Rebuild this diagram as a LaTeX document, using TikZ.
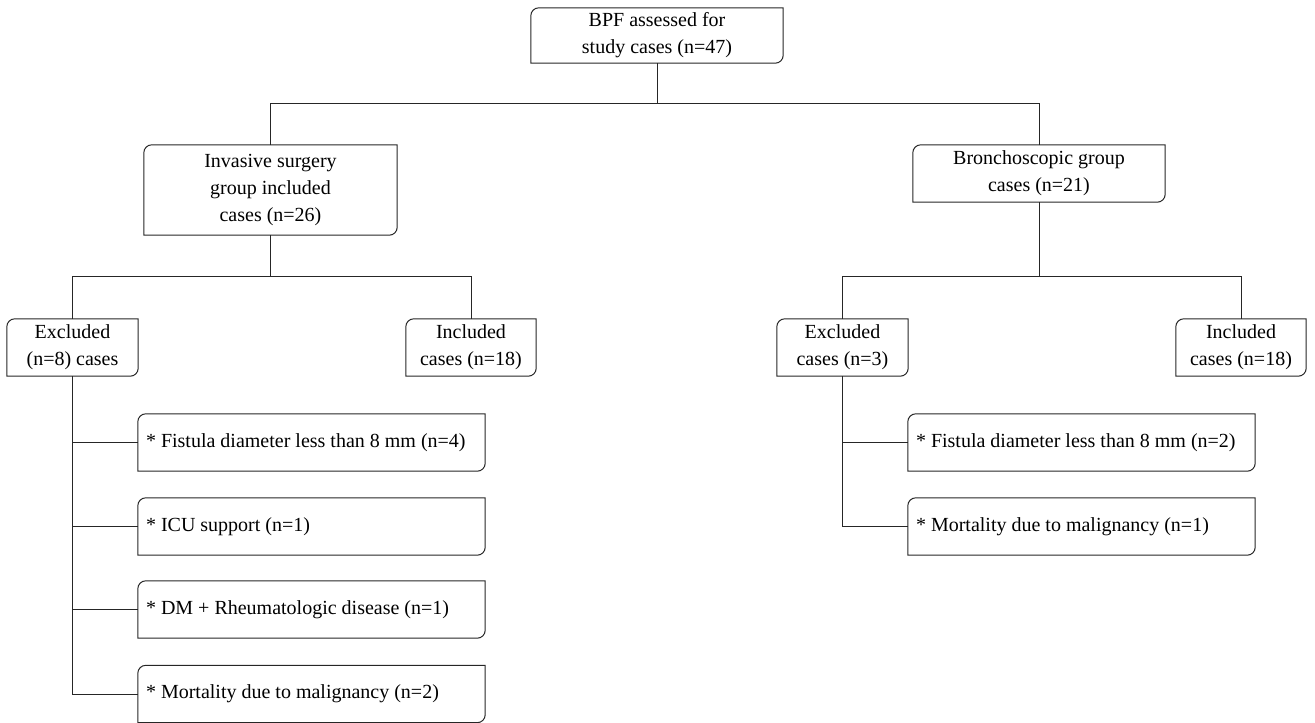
\documentclass[tikz,border=0pt]{standalone}
\usepackage{fontspec}
\setmainfont{Liberation Serif}
\newcommand\boxfont{\fontsize{20}{27}\selectfont}
\tikzset{
  link/.style={line width=1pt, draw=black!85},
  lbl/.style={inner sep=0pt, align=center, font=\boxfont,
              execute at begin node={\spaceskip=0.25em plus 0.05em\relax}},
  item/.style={inner xsep=8pt, inner ysep=0pt, align=left, text width=331pt,
               minimum height=57pt, font=\boxfont,
               execute at begin node={\spaceskip=0.25em plus 0.05em\relax}}
}
\newcommand\rbox[1]{%
  \draw[link] ([xshift=8pt]#1.north west) -- (#1.north east)
    -- ([yshift=8pt]#1.south east) arc[start angle=0,end angle=-90,radius=8pt]
    -- (#1.south west) -- ([yshift=-8pt]#1.north west)
    arc[start angle=180,end angle=90,radius=8pt] -- cycle;}
\begin{document}
\begin{tikzpicture}[x=1pt,y=-1pt]
\useasboundingbox (0,0) rectangle (1315,723);
\node[lbl, minimum width=252pt, minimum height=55pt] (top) at (657,35.5) {BPF assessed for\\study cases (n=47)};
\node[lbl, minimum width=253pt, minimum height=90pt] (inv) at (270.5,190) {Invasive surgery\\group included\\cases (n=26)};
\node[lbl, minimum width=252pt, minimum height=57pt] (bron) at (1039,173.5) {Bronchoscopic group\\cases (n=21)};
\node[lbl, minimum width=131pt, minimum height=57pt] (exL) at (72.5,347.5) {Excluded\\(n=8) cases};
\node[lbl, minimum width=130pt, minimum height=57pt] (inL) at (471,347.5) {Included\\cases (n=18)};
\node[lbl, minimum width=131pt, minimum height=57pt] (exR) at (842.5,347.5) {Excluded\\cases (n=3)};
\node[lbl, minimum width=130pt, minimum height=57pt] (inR) at (1241,347.5) {Included\\cases (n=18)};
\node[item] (L1) at (311.5,442.5) {* Fistula diameter less than 8 mm (n=4)};
\node[item] (L2) at (311.5,526.5) {* ICU support (n=1)};
\node[item] (L3) at (311.5,609.5) {* DM + Rheumatologic disease (n=1)};
\node[item] (L4) at (311.5,694) {* Mortality due to malignancy (n=2)};
\node[item] (R1) at (1081.5,442.5) {* Fistula diameter less than 8 mm (n=2)};
\node[item] (R2) at (1081.5,526.5) {* Mortality due to malignancy (n=1)};
\foreach \n in {top,inv,bron,exL,inL,exR,inR,L1,L2,L3,L4,R1,R2} {\rbox{\n}}
\coordinate (h1) at (0,103);
\coordinate (h2) at (0,276);
\draw[link] (top.south) -- (top.south |- h1);
\draw[link] (inv.north) |- (bron.north |- h1) -- (bron.north);
\draw[link] (inv.south) -- (inv.south |- h2);
\draw[link] (exL.north) |- (inL.north |- h2) -- (inL.north);
\draw[link] (bron.south) -- (bron.south |- h2);
\draw[link] (exR.north) |- (inR.north |- h2) -- (inR.north);
\draw[link] (exL.south) |- (L4.west);
\foreach \n in {L1,L2,L3} {\draw[link] (exL.south |- \n.west) -- (\n.west);}
\draw[link] (exR.south) |- (R2.west);
\draw[link] (exR.south |- R1.west) -- (R1.west);
\end{tikzpicture}
\end{document}
